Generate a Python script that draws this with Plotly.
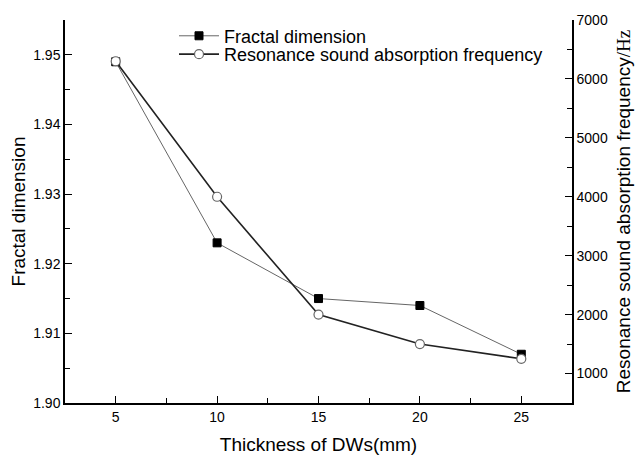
import plotly.graph_objects as go

thickness = [5, 10, 15, 20, 25]
fractal_dim = [1.949, 1.923, 1.915, 1.914, 1.907]
res_freq = [6300, 4000, 2000, 1500, 1250]

FONT = "Liberation Sans, Arial, sans-serif"

fig = go.Figure()
fig.add_trace(go.Scatter(
    x=thickness, y=fractal_dim, name="Fractal dimension",
    mode="lines+markers",
    line=dict(color="#666666", width=1),
    marker=dict(symbol="square", size=8, color="black", line=dict(color="black", width=1)),
    yaxis="y", legend="legend"))
fig.add_trace(go.Scatter(
    x=thickness, y=res_freq, name="Resonance sound absorption frequency",
    mode="lines+markers",
    line=dict(color="#222222", width=1.6),
    marker=dict(symbol="circle", size=9, color="white", line=dict(color="#666666", width=1.2)),
    yaxis="y2", legend="legend2"))

axis_common = dict(showgrid=False, zeroline=False, showline=True, linecolor="black",
                   linewidth=1.5, ticks="inside", ticklen=7, tickwidth=1.2, tickcolor="black",
                   tickfont=dict(family=FONT, size=14, color="black"))

leg_common = dict(xanchor="left", yanchor="middle",
                  font=dict(family=FONT, size=18, color="black"),
                  bgcolor="rgba(0,0,0,0)", itemwidth=40)

fig.update_layout(
    width=643, height=465,
    margin=dict(l=65, r=70, t=13, b=62),
    paper_bgcolor="white", plot_bgcolor="white",
    showlegend=True,
    legend=dict(x=0.215, y=0.958, **leg_common),
    legend2=dict(x=0.215, y=0.91, **leg_common),
    xaxis=dict(range=[2.5, 27.5], tickvals=thickness,
               title=dict(text="Thickness of DWs(mm)", font=dict(family=FONT, size=19, color="black"), standoff=14),
               minor=dict(ticks="inside", ticklen=5, dtick=2.5, tick0=0, tickcolor="black"),
               **axis_common),
    yaxis=dict(range=[1.90, 1.955], dtick=0.01, tick0=1.90, tickformat=".2f",
               title=dict(text="Fractal dimension", font=dict(family=FONT, size=19, color="black"), standoff=3),
               minor=dict(ticks="inside", ticklen=5, dtick=0.005, tick0=1.90, tickcolor="black"),
               **axis_common),
    yaxis2=dict(range=[500, 7000], dtick=1000, tick0=0, overlaying="y", side="right",
                title=dict(text='Resonance sound absorption frequency<span style="font-family:Liberation Serif, Times New Roman, serif">/Hz</span>',
                           font=dict(family=FONT, size=19, color="black"), standoff=10),
                minor=dict(ticks="inside", ticklen=5, dtick=500, tick0=0, tickcolor="black"),
                **axis_common),
)

fig.write_html("out.html")
